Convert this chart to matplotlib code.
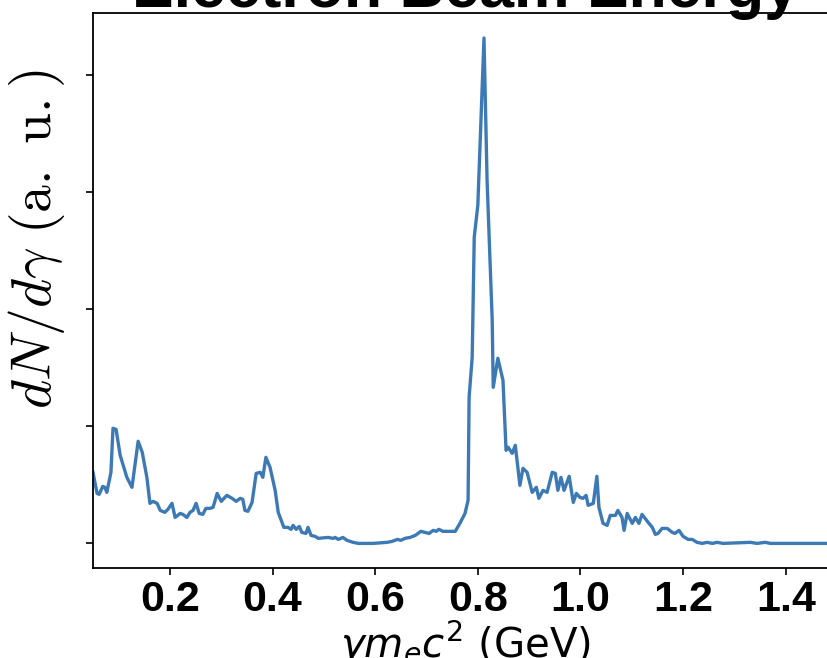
import matplotlib
matplotlib.use('Agg')
import matplotlib.pyplot as plt

# electron energy (GeV)
energy = [0.050, 0.058, 0.062, 0.069, 0.073, 0.077, 0.085, 0.089, 0.095, 0.103,
          0.116, 0.126, 0.138, 0.146, 0.155, 0.161, 0.167, 0.175, 0.181, 0.190,
          0.196, 0.204, 0.210, 0.220, 0.225, 0.233, 0.239, 0.245, 0.251, 0.257,
          0.264, 0.270, 0.278, 0.284, 0.292, 0.300, 0.307, 0.311, 0.321, 0.329,
          0.337, 0.342, 0.346, 0.352, 0.360, 0.368, 0.376, 0.381, 0.387, 0.395,
          0.405, 0.411, 0.422, 0.430, 0.436, 0.440, 0.446, 0.452, 0.457, 0.465,
          0.469, 0.475, 0.483, 0.489, 0.508, 0.518, 0.522, 0.528, 0.537, 0.545,
          0.557, 0.567, 0.596, 0.623, 0.633, 0.643, 0.650, 0.658, 0.668, 0.678,
          0.689, 0.697, 0.705, 0.713, 0.719, 0.724, 0.732, 0.746, 0.756, 0.765,
          0.775, 0.781, 0.783, 0.789, 0.793, 0.800, 0.812, 0.818, 0.828, 0.830,
          0.839, 0.849, 0.855, 0.859, 0.867, 0.873, 0.882, 0.888, 0.896, 0.906,
          0.914, 0.919, 0.927, 0.935, 0.945, 0.951, 0.956, 0.962, 0.968, 0.978,
          0.986, 0.992, 0.999, 1.005, 1.011, 1.015, 1.025, 1.032, 1.036, 1.044,
          1.052, 1.058, 1.068, 1.073, 1.081, 1.085, 1.091, 1.101, 1.107, 1.114,
          1.120, 1.132, 1.140, 1.146, 1.151, 1.159, 1.169, 1.179, 1.184, 1.192,
          1.200, 1.210, 1.218, 1.227, 1.237, 1.247, 1.257, 1.266, 1.278, 1.331,
          1.344, 1.360, 1.370, 1.500]

# spectrum dN/dgamma (arbitrary units)
counts = [0.607, 0.427, 0.419, 0.487, 0.479, 0.436, 0.607, 0.983, 0.974, 0.752,
          0.564, 0.479, 0.872, 0.778, 0.564, 0.342, 0.359, 0.342, 0.282, 0.265,
          0.291, 0.342, 0.222, 0.256, 0.248, 0.222, 0.265, 0.282, 0.342, 0.256,
          0.248, 0.299, 0.299, 0.308, 0.427, 0.359, 0.393, 0.410, 0.385, 0.359,
          0.385, 0.376, 0.282, 0.274, 0.350, 0.598, 0.607, 0.564, 0.735, 0.650,
          0.453, 0.265, 0.137, 0.137, 0.120, 0.154, 0.120, 0.145, 0.094, 0.085,
          0.137, 0.068, 0.060, 0.043, 0.051, 0.043, 0.051, 0.034, 0.051, 0.026,
          0.009, 0.000, 0.000, 0.009, 0.017, 0.034, 0.026, 0.043, 0.051, 0.068,
          0.103, 0.094, 0.085, 0.111, 0.103, 0.120, 0.103, 0.103, 0.103, 0.171,
          0.256, 0.368, 1.248, 1.590, 2.615, 2.889, 4.316, 3.103, 1.906, 1.333,
          1.581, 1.393, 0.795, 0.821, 0.769, 0.838, 0.496, 0.641, 0.607, 0.436,
          0.479, 0.385, 0.453, 0.436, 0.607, 0.598, 0.453, 0.564, 0.453, 0.573,
          0.350, 0.427, 0.393, 0.385, 0.410, 0.325, 0.342, 0.573, 0.308, 0.171,
          0.154, 0.239, 0.239, 0.282, 0.222, 0.111, 0.256, 0.171, 0.222, 0.171,
          0.248, 0.179, 0.137, 0.077, 0.085, 0.128, 0.128, 0.094, 0.085, 0.111,
          0.060, 0.034, 0.034, 0.009, 0.000, 0.009, 0.000, 0.009, 0.000, 0.009,
          0.000, 0.009, 0.000, 0.000]

xticks = [0.2, 0.4, 0.6, 0.8, 1.0, 1.2, 1.4]
yticks = [0, 1, 2, 3, 4]

fig = plt.figure(figsize=(8.28, 6.58), dpi=100)
# the reference is a crop: right spine and most of the title fall outside
ax = fig.add_axes([0.1123, 0.1368, 0.8986, 0.8435])

ax.plot(energy, counts, color='#3d7ab5', lw=2.4)

ax.set_xlim(0.05, 1.5)
ax.set_ylim(-0.21, 4.53)
ax.set_xticks(xticks)
ax.set_xticklabels(['%.1f' % t for t in xticks], fontsize=31,
                   fontweight='bold', family='Liberation Sans')
ax.set_yticks(yticks)
ax.set_yticklabels([])
ax.tick_params(length=5, width=1.2)
for s in ax.spines.values():
    s.set_linewidth(1.3)

ax.set_xlabel(r'$\gamma m_e c^2$ (GeV)', fontsize=29, labelpad=-1,
              math_fontfamily='dejavusans')
ax.set_ylabel(r'$dN/d\gamma\ \mathrm{(a.\ u.)}$', fontsize=40,
              math_fontfamily='cm')
ax.yaxis.set_label_coords(-0.035, 0.593)
ax.set_title('Electron Beam Energy', fontsize=45, fontweight='bold',
             family='Liberation Sans', y=1.0, pad=4)

fig.savefig('out.png', dpi=100)
